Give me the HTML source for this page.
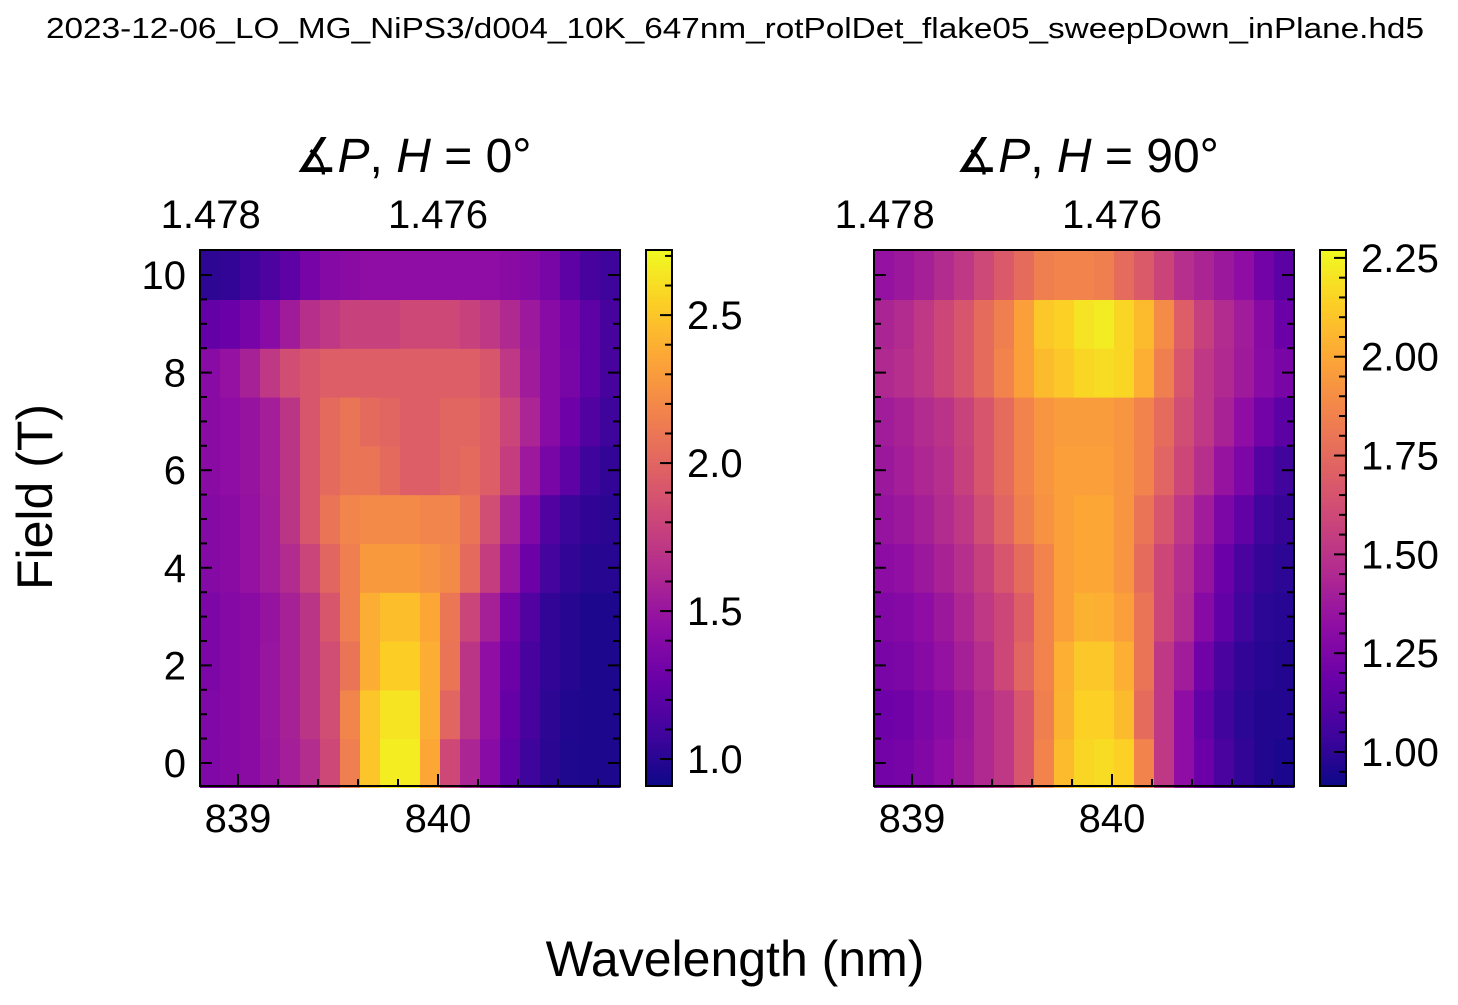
<!DOCTYPE html>
<html><head><meta charset="utf-8"><style>
html,body{margin:0;padding:0;background:#fff;}
svg text{font-family:"Liberation Sans","DejaVu Sans",sans-serif;fill:#000;}
</style></head><body>
<svg id="fig" width="1458" height="1000" viewBox="0 0 1458 1000" xmlns="http://www.w3.org/2000/svg">
<rect width="1458" height="1000" fill="#fff"/>
<text x="735" y="38" font-size="29" text-anchor="middle" textLength="1378" lengthAdjust="spacingAndGlyphs">2023-12-06_LO_MG_NiPS3/d004_10K_647nm_rotPolDet_flake05_sweepDown_inPlane.hd5</text>
<text x="0" y="0" font-size="50" text-anchor="middle" transform="translate(52,497) rotate(-90)">Field (T)</text>
<text x="735" y="976" font-size="50" text-anchor="middle">Wavelength (nm)</text>
<g id="panels"></g>
</svg>
<script>
// shared axes data
const wavelengths = [838.86,838.96,839.06,839.16,839.26,839.36,839.46,839.56,839.66,839.76,839.86,839.96,840.06,840.16,840.26,840.36,840.46,840.56,840.66,840.76,840.86];
const fields = [0,1,2,3,4,5,6,7,8,9,10];
const xTicks = [839, 840];
const topTicks = [1.478, 1.476];
const yTicks = [0,2,4,6,8,10];
// left panel (pol 0°) intensities, rows = fields 0..10
const left0 = [1.38,1.40,1.43,1.49,1.56,1.65,1.82,2.14,2.50,2.67,2.67,2.36,1.82,1.60,1.42,1.22,1.08,1.01,0.97,0.96,0.96];
const left1 = [1.38,1.40,1.43,1.50,1.58,1.70,1.85,2.18,2.50,2.63,2.63,2.39,2.00,1.70,1.46,1.25,1.12,1.02,0.98,0.96,0.96];
const left2 = [1.36,1.40,1.43,1.50,1.58,1.70,1.85,2.09,2.39,2.54,2.54,2.39,2.09,1.70,1.46,1.28,1.12,1.04,1.00,0.96,0.96];
const left3 = [1.36,1.40,1.43,1.49,1.58,1.70,1.91,2.14,2.39,2.47,2.47,2.36,2.10,1.80,1.57,1.33,1.16,1.04,1.00,0.96,0.96];
const left4 = [1.40,1.43,1.48,1.55,1.64,1.80,2.00,2.14,2.29,2.29,2.29,2.25,2.21,2.03,1.76,1.50,1.28,1.11,1.04,1.00,1.00];
const left5 = [1.40,1.43,1.48,1.55,1.70,1.91,2.09,2.18,2.21,2.21,2.21,2.18,2.18,2.09,1.85,1.60,1.38,1.16,1.07,1.03,1.01];
const left6 = [1.43,1.45,1.49,1.56,1.70,1.91,2.03,2.09,2.09,2.03,1.96,1.96,2.00,2.03,1.96,1.76,1.52,1.34,1.22,1.08,1.04];
const left7 = [1.43,1.45,1.49,1.56,1.70,1.91,2.03,2.09,2.03,2.00,1.96,1.96,2.00,2.00,1.96,1.80,1.60,1.42,1.29,1.16,1.08];
const left8 = [1.42,1.48,1.58,1.72,1.85,1.91,1.96,1.96,1.96,1.96,1.96,1.96,1.96,1.96,1.91,1.72,1.54,1.42,1.34,1.22,1.12];
const left9 = [1.24,1.27,1.33,1.42,1.54,1.67,1.72,1.78,1.78,1.78,1.82,1.82,1.82,1.78,1.72,1.63,1.52,1.42,1.33,1.22,1.12];
const left10 = [1.02,1.04,1.08,1.14,1.22,1.33,1.40,1.43,1.45,1.45,1.45,1.45,1.45,1.45,1.45,1.43,1.40,1.34,1.22,1.12,1.08];
// right panel (pol 90°)
const right0 = [1.22,1.23,1.27,1.32,1.38,1.45,1.52,1.66,1.86,2.07,2.16,2.18,2.14,1.86,1.52,1.32,1.19,1.08,1.01,0.97,0.95];
const right1 = [1.20,1.21,1.25,1.30,1.37,1.45,1.52,1.66,1.84,2.04,2.14,2.14,2.07,1.76,1.52,1.32,1.16,1.05,0.995,0.97,0.97];
const right2 = [1.24,1.25,1.29,1.34,1.41,1.48,1.59,1.73,1.86,2.03,2.11,2.11,2.03,1.80,1.52,1.39,1.21,1.08,1.01,0.98,0.97];
const right3 = [1.27,1.28,1.32,1.37,1.44,1.52,1.59,1.70,1.86,1.97,2.04,2.03,1.97,1.80,1.59,1.46,1.29,1.16,1.05,0.995,0.98];
const right4 = [1.31,1.33,1.37,1.42,1.48,1.56,1.66,1.76,1.86,1.97,2.00,2.00,1.93,1.76,1.59,1.48,1.35,1.19,1.08,1.02,0.995];
const right5 = [1.35,1.37,1.41,1.46,1.52,1.62,1.73,1.84,1.92,1.97,2.00,2.00,1.93,1.80,1.66,1.52,1.39,1.25,1.16,1.05,1.02];
const right6 = [1.37,1.40,1.44,1.48,1.56,1.66,1.76,1.86,1.93,1.97,1.97,1.97,1.93,1.86,1.73,1.59,1.48,1.35,1.25,1.12,1.05];
const right7 = [1.39,1.42,1.46,1.50,1.57,1.66,1.76,1.86,1.93,1.96,1.96,1.96,1.93,1.86,1.76,1.62,1.52,1.42,1.32,1.22,1.14];
const right8 = [1.45,1.48,1.52,1.59,1.66,1.76,1.86,1.97,2.07,2.11,2.16,2.18,2.16,2.03,1.84,1.66,1.52,1.45,1.38,1.30,1.24];
const right9 = [1.43,1.46,1.52,1.59,1.66,1.76,1.84,1.97,2.11,2.14,2.20,2.23,2.16,2.07,1.89,1.70,1.56,1.46,1.39,1.29,1.19];
const right10 = [1.34,1.37,1.41,1.46,1.52,1.60,1.68,1.76,1.84,1.86,1.86,1.84,1.76,1.68,1.58,1.48,1.43,1.37,1.32,1.22,1.14];
const leftRows = [left0,left1,left2,left3,left4,left5,left6,left7,left8,left9,left10];
const rightRows = [right0,right1,right2,right3,right4,right5,right6,right7,right8,right9,right10];
const leftRange = [0.909, 2.72];
const rightRange = [0.914, 2.27];
const leftCbTicks = [1.0,1.5,2.0,2.5];
const rightCbTicks = [1.00,1.25,1.50,1.75,2.00,2.25];

const stops=[[13,8,135],[65,4,157],[106,0,168],[143,13,164],[177,42,144],[204,71,120],[225,100,98],[242,132,75],[252,166,54],[252,206,37],[240,249,33]];
function plasma(t){t=Math.max(0,Math.min(1,t));const f=t*10,i=Math.min(9,Math.floor(f)),u=f-i;const a=stops[i],b=stops[i+1];
return 'rgb('+a.map((v,k)=>Math.round(v+(b[k]-v)*u)).join(',')+')';}
const NS='http://www.w3.org/2000/svg';
function mk(tag,attrs,parent){const e=document.createElementNS(NS,tag);for(const k in attrs)e.setAttribute(k,attrs[k]);parent.appendChild(e);return e;}
const root=document.getElementById('panels');

function panel(x0,rows,range,cbTicks,cbMinor,cbDec,title,name){
  const W=420,top=250,bot=786;
  const xs=l=>x0+38+(l-839)*200;
  const ys=f=>763-f*48.8;
  const g=mk('g',{},root);
  
  
  const dx=20;
  rows.forEach((row,ri)=>{row.forEach((v,ci)=>{
    const cx=xs(wavelengths[ci]);const y1=ys(fields[ri]+0.5),y2=ys(fields[ri]-0.5);
    const r=mk('rect',{x:cx-dx/2,y:y1,width:dx+0.6,height:y2-y1+0.6,fill:plasma((v-range[0])/(range[1]-range[0]))},g);
    
    
  });});
  mk('rect',{x:x0,y:top,width:W,height:bot-top,fill:'none',stroke:'#000','stroke-width':2},g);
  for(let l=838.8;l<=840.95;l+=0.2){const x=xs(Math.round(l*10)/10);if(x<x0||x>x0+W)continue;
    mk('line',{x1:x,y1:bot,x2:x,y2:bot-(Math.abs(l-Math.round(l))<0.01?12:7),stroke:'#000','stroke-width':2},g);}
  xTicks.forEach(l=>{const t=mk('text',{x:xs(l),y:832,'font-size':40,'text-anchor':'middle'},g);t.textContent=l;
    });
  topTicks.forEach(e=>{const t=mk('text',{x:xs(1239.84/e),y:228,'font-size':40,'text-anchor':'middle'},g);t.textContent=e.toFixed(3);
    });
  for(let f=-0.5;f<=10.5;f+=0.5){if(f<=-0.5||f>=10.5)continue;const y=ys(f);const L=(f%2===0)?12:7;
    mk('line',{x1:x0,y1:y,x2:x0+L,y2:y,stroke:'#000','stroke-width':2},g);
    mk('line',{x1:x0+W,y1:y,x2:x0+W-L,y2:y,stroke:'#000','stroke-width':2},g);}
  if(name==='left-panel'){yTicks.forEach(f=>{const t=mk('text',{x:186,y:ys(f)+14,'font-size':40,'text-anchor':'end'},g);t.textContent=f;
    });}
  const tt=mk('text',{x:x0+213,y:172,'font-size':48,'text-anchor':'middle','font-family':'DejaVu Sans'},g);
  tt.innerHTML=title;
  
  const cx=x0+446,cw=26;
  const cb=mk('g',{},g);
  
  
  const cs=v=>bot-(v-range[0])/(range[1]-range[0])*(bot-top);
  for(let i=0;i<134;i++){const y=bot-(i+1)*4;mk('rect',{x:cx,y:y,width:cw,height:4.5,fill:plasma((i+0.5)/134)},cb);}
  mk('rect',{x:cx,y:top,width:cw,height:bot-top,fill:'none',stroke:'#000','stroke-width':2},cb);
  for(let v=Math.ceil(range[0]/cbMinor)*cbMinor;v<range[1];v+=cbMinor){const y=cs(v);
    const major=cbTicks.some(t=>Math.abs(t-v)<1e-6);mk('line',{x1:cx+cw,y1:y,x2:cx+cw-(major?12:7),y2:y,stroke:'#000','stroke-width':2},cb);}
  cbTicks.forEach(v=>{const t=mk('text',{x:cx+41,y:cs(v)+14,'font-size':40},cb);t.textContent=v.toFixed(cbDec);
    });
}
panel(200,leftRows,leftRange,leftCbTicks,0.1,1,'<tspan>∡</tspan><tspan font-style="italic">P</tspan>, <tspan font-style="italic">H</tspan> = 0°','left-panel');
panel(874,rightRows,rightRange,rightCbTicks,0.05,2,'<tspan>∡</tspan><tspan font-style="italic">P</tspan>, <tspan font-style="italic">H</tspan> = 90°','right-panel');
</script>
</body></html>
